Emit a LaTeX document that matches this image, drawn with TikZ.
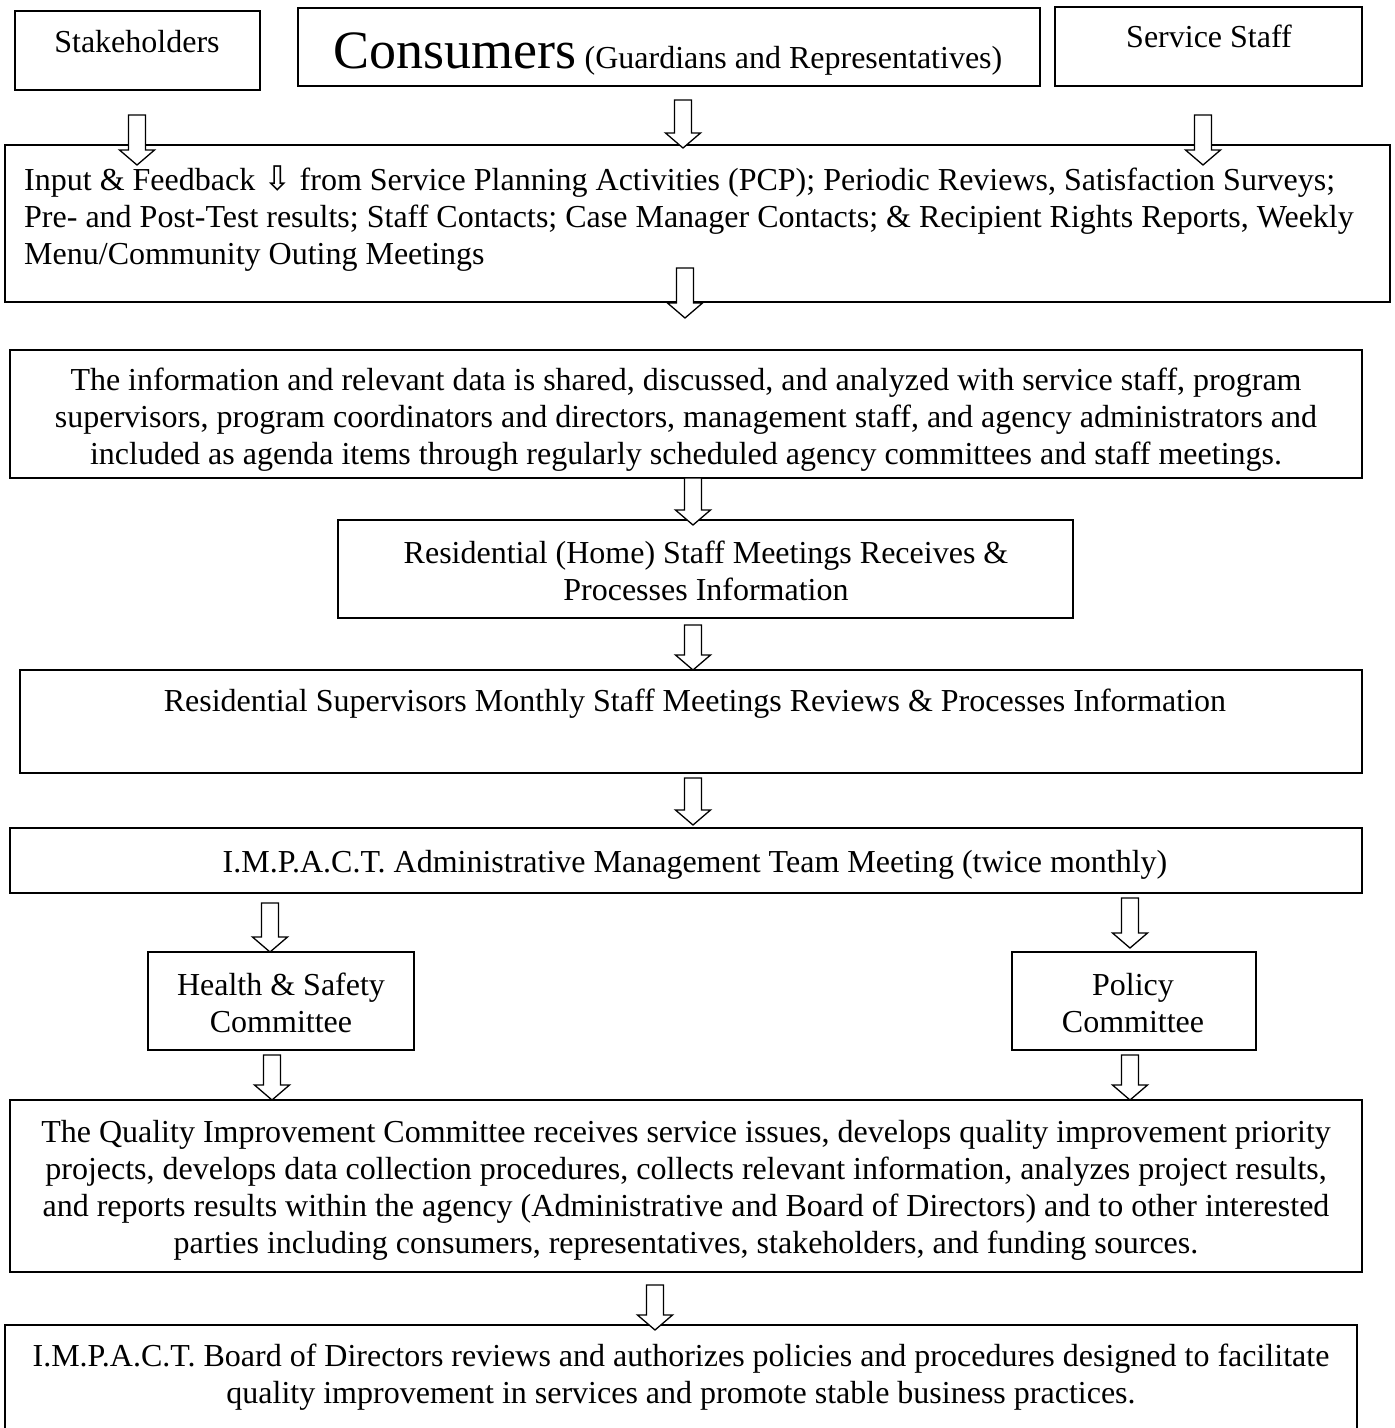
\documentclass[tikz,border=0pt]{standalone}
\usepackage{fontspec}
\setmainfont{Liberation Serif}
\newfontfamily\symfont{DejaVu Sans}
\begin{document}
\begin{tikzpicture}[x=1pt,y=-1pt,
  box/.style={draw,line width=1.5pt,fill=none},
  txt/.style={inner sep=0pt,font=\fontsize{32}{37}\selectfont},
  blockarrow/.style={draw,line width=1.3pt,fill=white,line join=miter}]
\useasboundingbox (0,0) rectangle (1395,1428);
\clip (0,0) rectangle (1395,1428);
\newcommand\blk[3]{\draw[blockarrow] (#1-8.5,#2) -- (#1+8.5,#2) -- (#1+8.5,#3-15) -- (#1+17.5,#3-15) -- (#1,#3) -- (#1-17.5,#3-15) -- (#1-8.5,#3-15) -- cycle;}
% boxes
\draw[box] (15,11) rectangle (260,90) node[midway] (sh) {};
\draw[box] (298,8) rectangle (1040,86) node[midway] (co) {};
\draw[box] (1055,7) rectangle (1362,86) node[midway] (ss) {};
\draw[box] (5,145) rectangle (1390,302) node[midway] (inp) {};
\draw[box] (10,350) rectangle (1362,478) node[midway] (info) {};
\draw[box] (338,520) rectangle (1073,618) node[midway] (home) {};
\draw[box] (20,670) rectangle (1362,773) node[midway] (sup) {};
\draw[box] (10,828) rectangle (1362,893) node[midway] (adm) {};
\draw[box] (148,952) rectangle (414,1050) node[midway] (hs) {};
\draw[box] (1012,952) rectangle (1256,1050) node[midway] (pol) {};
\draw[box] (10,1100) rectangle (1362,1272) node[midway] (qi) {};
\draw[box] (5,1325) rectangle (1357,1450) node[midway] (brd) {};
% texts
\node[txt,anchor=base] (sh-t) at (137,52) {Stakeholders};
\node[txt,anchor=base] (co-t) at (668,68) {{\fontsize{54}{60}\selectfont Consumers} (Guardians and Representatives)};
\node[txt,anchor=base] (ss-t) at (1209,47) {Service Staff};
\node[txt,anchor=west,align=left] (inp-t) at (24,219) {Input \& Feedback {\symfont\fontsize{34}{34}\selectfont ⇩} from Service Planning Activities (PCP); Periodic Reviews, Satisfaction Surveys;\\
Pre- and Post-Test results; Staff Contacts; Case Manager Contacts; \& Recipient Rights Reports, Weekly\\
Menu/Community Outing Meetings};
\node[txt,align=center] (info-t) at (686,420) {The information and relevant data is shared, discussed, and analyzed with service staff, program\\
supervisors, program coordinators and directors, management staff, and agency administrators and\\
included as agenda items through regularly scheduled agency committees and staff meetings.};
\node[txt,align=center] (home-t) at (706,571) {Residential (Home) Staff Meetings Receives \&\\ Processes Information};
\node[txt,anchor=base] (sup-t) at (695,711) {Residential Supervisors Monthly Staff Meetings Reviews \& Processes Information};
\node[txt,anchor=base] (adm-t) at (695,872) {I.M.P.A.C.T. Administrative Management Team Meeting (twice monthly)};
\node[txt,align=center] (hs-t) at (281,1003) {Health \& Safety\\ Committee};
\node[txt,align=center] (pol-t) at (1133,1003) {Policy\\ Committee};
\node[txt,align=center] (qi-t) at (686,1190) {The Quality Improvement Committee receives service issues, develops quality improvement priority\\
projects, develops data collection procedures, collects relevant information, analyzes project results,\\
and reports results within the agency (Administrative and Board of Directors) and to other interested\\
parties including consumers, representatives, stakeholders, and funding sources.};
\node[txt,align=center] (brd-t) at (681,1377) {I.M.P.A.C.T. Board of Directors reviews and authorizes policies and procedures designed to facilitate\\
quality improvement in services and promote stable business practices.};
% block arrows
\blk{137}{115}{165}
\blk{683}{100}{148}
\blk{1203}{115}{165}
\blk{685}{268}{318}
\blk{693}{478}{525}
\blk{693}{625}{670}
\blk{693}{778}{825}
\blk{270}{903}{952}
\blk{1130}{898}{948}
\blk{272}{1055}{1100}
\blk{1130}{1055}{1100}
\blk{655}{1285}{1330}
\end{tikzpicture}
\end{document}
